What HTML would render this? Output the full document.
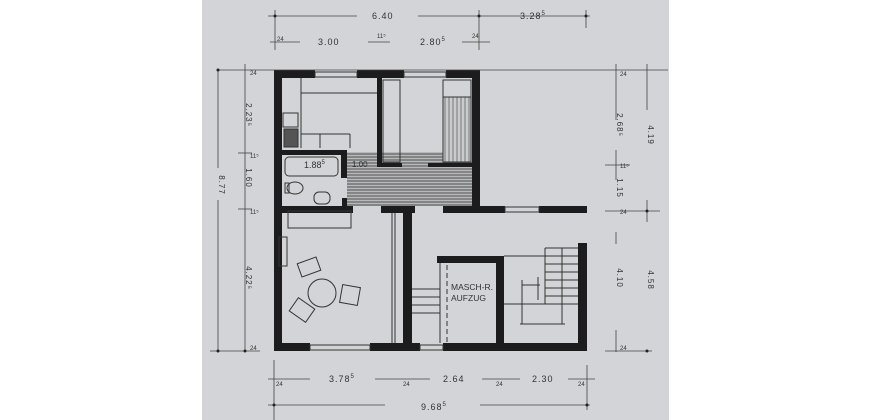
<!DOCTYPE html>
<html><head><style>
html,body{margin:0;padding:0;background:#fff;}
svg{display:block;}
text{font-family:"Liberation Sans",sans-serif;fill:#333;}
</style></head><body>
<svg width="870" height="420" viewBox="0 0 870 420" xmlns="http://www.w3.org/2000/svg">
<rect x="0" y="0" width="870" height="420" fill="#fff"/>
<rect x="202" y="0" width="467" height="420" fill="#d3d4d8"/>
<defs>
<pattern id="hat" width="3" height="3" patternUnits="userSpaceOnUse"><rect width="3" height="3" fill="#b8b9bc"/><line x1="0" y1="1" x2="3" y2="1" stroke="#444" stroke-width="0.9"/></pattern>
<pattern id="vh" width="4" height="4" patternUnits="userSpaceOnUse"><rect width="4" height="4" fill="#cacbce"/><line x1="1" y1="0" x2="1" y2="4" stroke="#555" stroke-width="0.7"/></pattern>
</defs>
<rect x="347" y="152" width="125" height="54" fill="url(#hat)"/>
<rect x="443" y="97" width="29" height="65" fill="url(#vh)"/>
<g fill="#1c1c1e">
<rect x="274" y="70" width="41" height="8"/>
<rect x="357" y="70" width="47" height="8"/>
<rect x="446" y="70" width="34" height="8"/>
<rect x="274" y="70" width="8" height="281"/>
<rect x="472" y="70" width="8" height="143"/>
<rect x="377" y="78" width="5" height="89"/>
<rect x="377" y="163" width="25" height="4"/>
<rect x="428" y="163" width="44" height="4"/>
<rect x="282" y="150" width="64" height="5"/>
<rect x="341" y="150" width="6" height="28"/>
<rect x="342" y="198" width="5" height="10"/>
<rect x="274" y="206" width="79" height="7"/>
<rect x="381" y="206" width="34" height="7"/>
<rect x="443" y="206" width="62" height="7"/>
<rect x="539" y="206" width="48" height="7"/>
<rect x="403" y="206" width="9" height="137"/>
<rect x="437" y="256" width="67" height="7"/>
<rect x="496" y="256" width="8" height="87"/>
<rect x="578" y="243" width="9" height="108"/>
<rect x="274" y="343" width="36" height="8"/>
<rect x="370" y="343" width="50" height="8"/>
<rect x="443" y="343" width="144" height="8"/>
</g>
<g fill="none" stroke="#333" stroke-width="1">
<rect x="315" y="72" width="42" height="5"/><rect x="404" y="72" width="42" height="5"/>
<rect x="310" y="345" width="60" height="5"/><rect x="420" y="345" width="23" height="5"/>
<rect x="505" y="207" width="34" height="5"/>
<line x1="301" y1="78" x2="301" y2="148"/>
<line x1="301" y1="93" x2="377" y2="93"/>
<rect x="283" y="113" width="15" height="14"/>
<rect x="284" y="129" width="14" height="18" fill="#555"/>
<line x1="301" y1="134" x2="350" y2="134"/><line x1="320" y1="134" x2="320" y2="148"/><line x1="350" y1="134" x2="350" y2="148"/>
<rect x="285" y="157" width="53" height="19" rx="4"/>
<ellipse cx="295" cy="188" rx="8" ry="6"/><rect x="285" y="183" width="4" height="10"/>
<rect x="314" y="192" width="16" height="12" rx="5"/>
<rect x="383" y="80" width="17" height="82"/>
<rect x="443" y="80" width="28" height="82"/>
<line x1="443" y1="97" x2="471" y2="97"/>
<rect x="288" y="211" width="63" height="17"/>
<line x1="392" y1="213" x2="392" y2="343"/><line x1="395" y1="213" x2="395" y2="343"/>
<rect x="279" y="237" width="8" height="29"/>
<circle cx="322" cy="293" r="14"/>
<rect x="299" y="260" width="20" height="14" transform="rotate(-20 309 267)"/>
<rect x="341" y="286" width="18" height="18" transform="rotate(10 350 295)"/>
<rect x="292" y="302" width="20" height="16" transform="rotate(35 302 310)"/>
<line x1="412" y1="289" x2="440" y2="289"/><line x1="412" y1="297" x2="440" y2="297"/><line x1="412" y1="305" x2="440" y2="305"/><line x1="412" y1="313" x2="440" y2="313"/>
<line x1="440" y1="263" x2="440" y2="343"/>
<line x1="447" y1="265" x2="447" y2="343" stroke-dasharray="5,3"/>
<line x1="545" y1="248" x2="578" y2="248"/>
<line x1="504" y1="256" x2="578" y2="256"/>
<line x1="545" y1="264" x2="578" y2="264"/><line x1="545" y1="272" x2="578" y2="272"/><line x1="545" y1="280" x2="578" y2="280"/><line x1="545" y1="288" x2="578" y2="288"/><line x1="545" y1="296" x2="578" y2="296"/><line x1="545" y1="304" x2="578" y2="304"/>
<line x1="545" y1="248" x2="545" y2="304"/>
<line x1="562" y1="248" x2="562" y2="324"/>
<line x1="522" y1="285" x2="540" y2="285"/><line x1="538" y1="277" x2="538" y2="300"/>
<line x1="504" y1="304" x2="545" y2="304"/>
<line x1="522" y1="280" x2="522" y2="324"/>
<line x1="520" y1="324" x2="565" y2="324"/>
</g>
<g stroke="#444" stroke-width="0.8" fill="none">
<line x1="268" y1="16" x2="357" y2="16"/><line x1="418" y1="16" x2="590" y2="16"/>
<line x1="275" y1="10" x2="275" y2="50"/><line x1="479" y1="10" x2="479" y2="50"/><line x1="586" y1="10" x2="586" y2="28"/>
<line x1="270" y1="42" x2="300" y2="42"/><line x1="368" y1="42" x2="390" y2="42"/><line x1="462" y1="42" x2="490" y2="42"/>
<line x1="218" y1="70" x2="668" y2="70"/>
<line x1="218" y1="70" x2="218" y2="168"/><line x1="218" y1="200" x2="218" y2="352"/>
<line x1="245" y1="64" x2="245" y2="352"/>
<line x1="210" y1="351" x2="260" y2="351"/>
<line x1="238" y1="153" x2="252" y2="153"/><line x1="238" y1="209" x2="252" y2="209"/>
<line x1="274" y1="360" x2="274" y2="420"/>
<line x1="268" y1="379" x2="310" y2="379"/><line x1="375" y1="379" x2="430" y2="379"/><line x1="482" y1="379" x2="520" y2="379"/><line x1="568" y1="379" x2="595" y2="379"/>
<line x1="268" y1="405" x2="385" y2="405"/><line x1="480" y1="405" x2="590" y2="405"/>
<line x1="587" y1="365" x2="587" y2="410"/>
<line x1="616" y1="64" x2="616" y2="120"/><line x1="616" y1="150" x2="616" y2="180"/><line x1="616" y1="232" x2="616" y2="244"/><line x1="616" y1="330" x2="616" y2="352"/>
<line x1="647" y1="64" x2="647" y2="110"/><line x1="647" y1="200" x2="647" y2="222"/>
<line x1="605" y1="165" x2="630" y2="165"/><line x1="605" y1="211" x2="660" y2="211"/><line x1="605" y1="351" x2="652" y2="351"/>
</g>
<g fill="#222">
<circle cx="275" cy="16" r="1.5"/><circle cx="479" cy="16" r="1.5"/><circle cx="586" cy="16" r="1.5"/>
<circle cx="218" cy="70" r="1.5"/><circle cx="218" cy="351" r="1.5"/><circle cx="245" cy="351" r="1.5"/>
<circle cx="274" cy="405" r="1.5"/><circle cx="587" cy="405" r="1.5"/><circle cx="647" cy="351" r="1.5"/><circle cx="647" cy="211" r="1.5"/>
</g>
<g font-size="6">
<text x="277" y="41">24</text><text x="377" y="38">11⁵</text><text x="472" y="38">24</text>
<text x="276" y="386">24</text><text x="403" y="386">24</text><text x="496" y="386">24</text><text x="578" y="386">24</text>
<text x="250" y="75">24</text><text x="250" y="158">11⁵</text><text x="250" y="214">11⁵</text><text x="250" y="350">24</text>
<text x="620" y="76">24</text><text x="620" y="168">11⁵</text><text x="620" y="214">24</text><text x="620" y="350">24</text>
</g>
<g font-size="9" letter-spacing="1">
<text x="372" y="19">6.40</text>
<text x="520" y="19">3.28<tspan font-size="6" dy="-4">5</tspan></text>
<text x="318" y="45">3.00</text>
<text x="420" y="45">2.80<tspan font-size="6" dy="-4">5</tspan></text>
<text x="329" y="382">3.78<tspan font-size="6" dy="-4">5</tspan></text>
<text x="443" y="382">2.64</text>
<text x="532" y="382">2.30</text>
<text x="421" y="410">9.68<tspan font-size="6" dy="-4">5</tspan></text>
</g>
<g font-size="9">
<text x="304" y="168">1.88<tspan font-size="6" dy="-4">5</tspan></text>
<text x="352" y="167" font-size="8">1.00</text>
<text x="451" y="290" font-size="8.5">MASCH-R.</text>
<text x="451" y="301" font-size="8.5">AUFZUG</text>
<g font-size="8" text-anchor="middle" letter-spacing="1">
<text transform="translate(246,115) rotate(90)">2.23⁵</text>
<text transform="translate(246,178) rotate(90)">1.60</text>
<text transform="translate(246,278) rotate(90)">4.22⁵</text>
<text transform="translate(219,185) rotate(90)">8.77</text>
<text transform="translate(617,125) rotate(90)">2.68⁵</text>
<text transform="translate(617,188) rotate(90)">1.15</text>
<text transform="translate(617,278) rotate(90)">4.10</text>
<text transform="translate(648,135) rotate(90)">4.19</text>
<text transform="translate(648,280) rotate(90)">4.58</text>
</g>
</g>
</svg>
</body></html>
